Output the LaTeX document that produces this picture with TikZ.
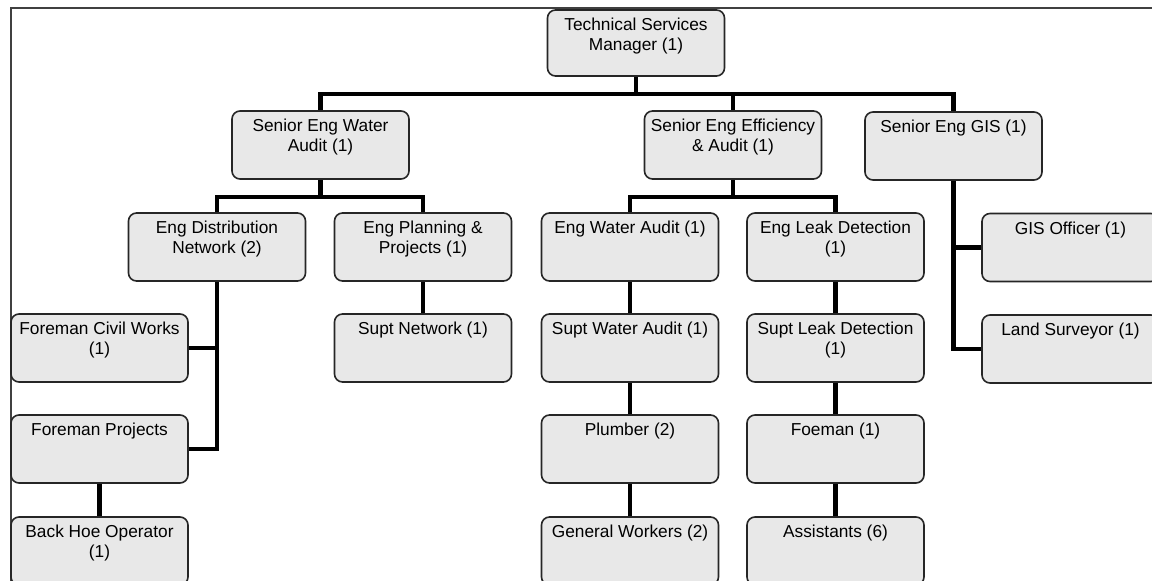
\documentclass[tikz,border=0pt]{standalone}
\usepackage{fontspec}
\setmainfont{Liberation Sans}
\newcommand{\orgtext}[2][68pt]{\parbox[c][#1][t]{177pt}{\centering\vspace*{8pt}#2\par}}
\pgfdeclarelayer{bg}
\pgfsetlayers{bg,main}
\begin{document}
\begin{tikzpicture}[x=1pt,y=-1pt,
  orgbox/.style={draw=black!85, line width=1.6pt, rounded corners=8pt, fill=black!9, inner sep=0pt},
  conn/.style={line width=4.5pt, black},
  frame/.style={line width=2pt, black!75},
  font=\fontsize{17.3}{19.5}\selectfont]
\useasboundingbox (0,0) rectangle (1152,581);

\node[orgbox] (tsm) at (636,43) {\orgtext[66pt]{Technical Services\\Manager (1)}};
\node[orgbox] (sewa) at (320.5,145) {\orgtext{Senior Eng Water\\Audit (1)}};
\node[orgbox] (seea) at (733,145) {\orgtext{Senior Eng Efficiency\\\& Audit (1)}};
\node[orgbox] (segis) at (953.5,146) {\orgtext{Senior Eng GIS (1)}};
\node[orgbox] (edn) at (217,247) {\orgtext{Eng Distribution\\Network (2)}};
\node[orgbox] (epp) at (423,247) {\orgtext{Eng Planning \&\\Projects (1)}};
\node[orgbox] (ewa) at (630,247) {\orgtext{Eng Water Audit (1)}};
\node[orgbox] (eld) at (835.5,247) {\orgtext{Eng Leak Detection\\(1)}};
\node[orgbox] (gis) at (1070.5,247.5) {\orgtext{GIS Officer (1)}};
\node[orgbox] (fcw) at (99.5,348) {\orgtext{Foreman Civil Works\\(1)}};
\node[orgbox] (sn) at (423,348) {\orgtext{Supt Network (1)}};
\node[orgbox] (swa) at (630,348) {\orgtext{Supt Water Audit (1)}};
\node[orgbox] (sld) at (835.5,348) {\orgtext{Supt Leak Detection\\(1)}};
\node[orgbox] (ls) at (1070.5,349) {\orgtext{Land Surveyor (1)}};
\node[orgbox] (fp) at (99.5,449) {\orgtext{Foreman Projects}};
\node[orgbox] (pl) at (630,449) {\orgtext{Plumber (2)}};
\node[orgbox] (fo) at (835.5,449) {\orgtext{Foeman (1)}};
\node[orgbox] (bho) at (99.5,551) {\orgtext{Back Hoe Operator\\(1)}};
\node[orgbox] (gw) at (630,551) {\orgtext{General Workers (2)}};
\node[orgbox] (as) at (835.5,551) {\orgtext{Assistants (6)}};

\coordinate (b1) at (0,94);
\coordinate (b2) at (0,197);

\begin{pgfonlayer}{bg}
\fill[white] (0,0) rectangle (1152,581);
\draw[frame] (11,581) -- (11,8) -- (1152,8);
\draw[conn] (tsm.south) -- (tsm.south |- b1);
\draw[conn] (sewa.north) |- (segis.north |- b1) -- (segis.north);
\draw[conn] (seea.north) -- (seea.north |- b1);
\draw[conn] (sewa.south) -- (sewa.south |- b2);
\draw[conn] (edn.north) |- (epp.north |- b2) -- (epp.north);
\draw[conn] (seea.south) -- (seea.south |- b2);
\draw[conn] (ewa.north) |- (eld.north |- b2) -- (eld.north);
\draw[conn] (segis.south) |- (ls.west);
\draw[conn] (gis.west) -- (gis.west -| segis.south);
\draw[conn] (edn.south) |- (fp.east);
\draw[conn] (fcw.east) -- (fcw.east -| edn.south);
\draw[conn] (epp.south) -- (sn.north);
\draw[conn] (ewa.south) -- (swa.north);
\draw[conn] (swa.south) -- (pl.north);
\draw[conn] (pl.south) -- (gw.north);
\draw[conn] (eld.south) -- (sld.north);
\draw[conn] (sld.south) -- (fo.north);
\draw[conn] (fo.south) -- (as.north);
\draw[conn] (fp.south) -- (bho.north);
\end{pgfonlayer}
\end{tikzpicture}
\end{document}
